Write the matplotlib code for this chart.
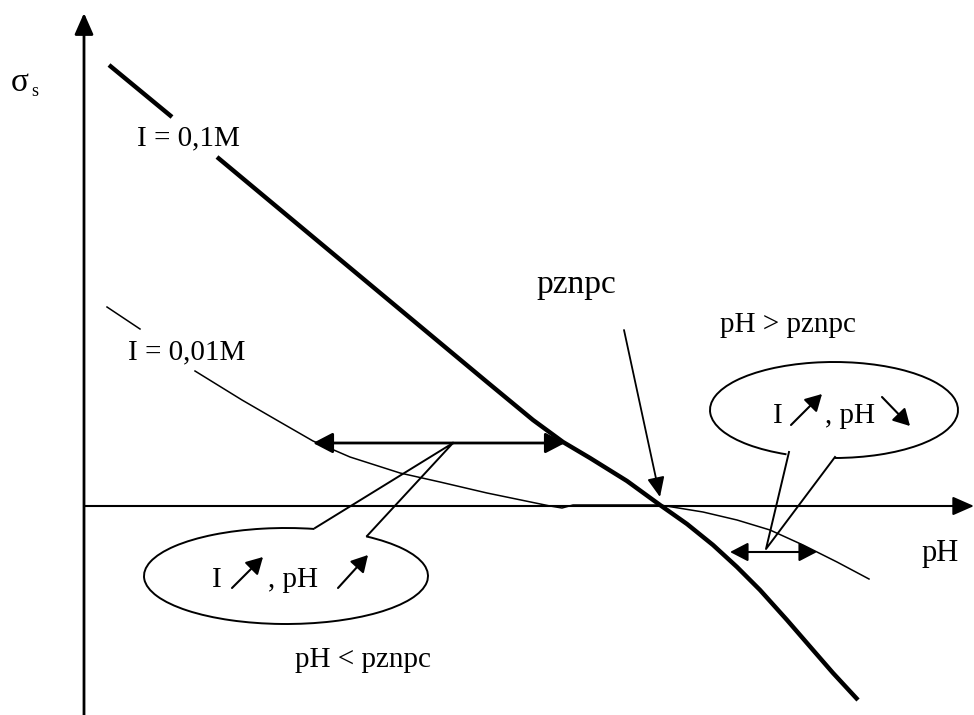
import matplotlib
matplotlib.use('Agg')
import numpy as np
import matplotlib.pyplot as plt
from matplotlib.patches import Arc

plt.rcParams['font.family'] = ['Liberation Serif', 'DejaVu Serif']

# canvas units = pixels of the original sketch (y grows downward)
W, H = 974, 715

# curve I = 0,1M (thick), split by its label
thick_top_x = [109, 172]
thick_top_y = [65, 117]
thick_x = [217, 487, 533, 563, 590, 627, 660, 687, 713, 737, 760, 787, 813, 833, 858]
thick_y = [157, 382, 420, 442, 458, 481, 505, 524, 545, 567, 590, 620, 650, 673, 700]

# curve I = 0,01M (thin), split by its label
thin_top_x = [107, 140]
thin_top_y = [307, 329]
thin_x = [195, 242, 280, 313, 350, 400, 440, 487, 550, 562, 573, 620, 660, 703, 737, 770, 803, 837, 869]
thin_y = [371, 400, 422, 441, 457, 473, 482, 493, 506, 508, 505, 505, 505, 512, 520, 530, 545, 562, 579]

# axes of the sketch
origin = (84, 506)
x_axis_end = 974
y_axis_end = 13

# callouts: ellipse centre, width, height, tail (joint, tip, joint)
left_ell = (286, 576, 284, 96)
left_tail_x = [315, 453, 367]
left_tail_y = [528, 443, 536]
right_ell = (834, 410, 248, 96)
right_tail_x = [789, 766, 835]
right_tail_y = [452, 549, 457]

fig = plt.figure(figsize=(W / 100, H / 100), dpi=100)
ax = fig.add_axes([0, 0, 1, 1])
ax.set_xlim(0, W)
ax.set_ylim(H, 0)
ax.axis('off')

def arrow(p0, p1, style='-|>', lw=1.5, ms=22, hw=0.22):
    ax.annotate('', xy=p1, xytext=p0,
                arrowprops=dict(arrowstyle=f'{style},head_length=0.5,head_width={hw}',
                                lw=lw, color='k', mutation_scale=ms,
                                shrinkA=0, shrinkB=0))

# axes
arrow((origin[0], H), (origin[0], y_axis_end), lw=2, ms=26)
arrow(origin, (x_axis_end, origin[1]), lw=1.5, ms=26)

# curves
ax.plot(thick_top_x, thick_top_y, color='k', lw=3.2, solid_capstyle='butt')
ax.plot(thick_x, thick_y, color='k', lw=3.2, solid_capstyle='butt', solid_joinstyle='round')
ax.plot(thin_top_x, thin_top_y, color='k', lw=1.1)
ax.plot(thin_x, thin_y, color='k', lw=1.1, solid_joinstyle='round')

# labels
ax.text(11, 83, 'σ', fontsize=24, ha='left', va='center')
ax.text(31, 92, 's', fontsize=13, ha='left', va='center')
ax.text(188, 138, 'I = 0,1M', fontsize=21, ha='center', va='center')
ax.text(187, 352, 'I = 0,01M', fontsize=21, ha='center', va='center')
ax.text(576, 285, 'pznpc', fontsize=24, ha='center', va='center')
ax.text(788, 325, 'pH > pznpc', fontsize=21, ha='center', va='center')
ax.text(363, 660, 'pH < pznpc', fontsize=21, ha='center', va='center')
ax.text(940, 553, 'pH', fontsize=22, ha='center', va='center')

# pznpc pointer
arrow((624, 330), (660, 497), lw=1.3, ms=24)

# double arrows (shift of pH)
arrow((453, 443), (313, 443), lw=2, ms=24, hw=0.26)
arrow((453, 443), (565, 443), lw=2, ms=24, hw=0.26)
arrow((766, 552), (730, 552), lw=1.5, ms=22, hw=0.26)
arrow((766, 552), (817, 552), lw=1.5, ms=22, hw=0.26)

# callout bubbles
for (cx, cy, w, h), tx, ty in [(left_ell, left_tail_x, left_tail_y),
                               (right_ell, right_tail_x, right_tail_y)]:
    a1 = np.degrees(np.arctan2(ty[0] - cy, tx[0] - cx))
    a2 = np.degrees(np.arctan2(ty[2] - cy, tx[2] - cx))
    lo, hi = sorted([a1, a2])
    ax.add_patch(Arc((cx, cy), w, h, theta1=hi, theta2=lo + 360, color='k', lw=1.4))
    ax.plot(tx, ty, color='k', lw=1.4)

# text inside bubbles
ax.text(212, 587, 'I', fontsize=21, va='baseline')
ax.text(268, 587, ', pH', fontsize=21, va='baseline')
arrow((232, 588), (263, 557), lw=1.5, ms=20, hw=0.28)
arrow((338, 588), (368, 555), lw=1.5, ms=20, hw=0.28)
ax.text(773, 423, 'I', fontsize=21, va='baseline')
ax.text(825, 423, ', pH', fontsize=21, va='baseline')
arrow((791, 425), (822, 394), lw=1.5, ms=20, hw=0.28)
arrow((882, 397), (910, 426), lw=1.5, ms=20, hw=0.28)

fig.savefig('out.png', dpi=100)
